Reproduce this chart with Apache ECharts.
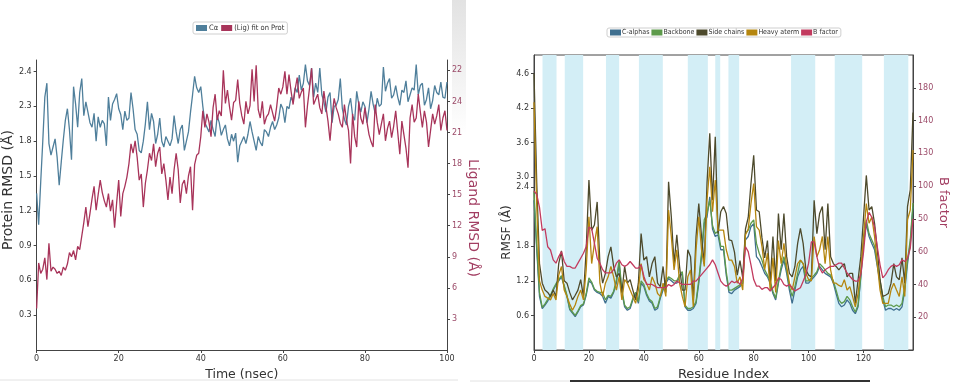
<!DOCTYPE html>
<html><head><meta charset="utf-8">
<script src="https://cdn.jsdelivr.net/npm/echarts@6/dist/echarts.min.js"></script>
<style>html,body{margin:0;padding:0;background:#fff}#c{width:972px;height:390px}</style>
</head><body><div id="c"></div>
<script>
// ---------- Left panel: RMSD vs time ----------
const timeStepNs = 0.5;
const proteinRmsd = [
1.35,1.08,1.45,1.80,2.18,2.30,1.78,1.68,1.75,1.82,
1.66,1.42,1.62,1.81,1.98,2.08,1.90,1.64,2.27,2.12,
1.92,2.22,2.34,2.02,2.14,2.05,1.96,1.92,2.04,1.80,
2.01,1.92,1.98,1.95,1.76,2.18,1.98,2.12,2.16,2.21,
2.08,2.03,1.90,2.06,1.98,2.00,2.22,2.08,1.90,1.86,
1.72,1.70,1.80,1.95,2.14,1.90,2.04,1.97,1.78,1.86,
2.00,1.80,1.75,1.84,1.80,1.76,1.82,2.02,1.88,1.78,
1.90,1.94,1.72,1.80,1.88,2.05,2.20,2.36,2.26,2.22,
2.27,2.10,1.96,1.92,1.88,1.98,1.90,1.84,2.02,1.96,
1.85,1.90,1.94,1.82,1.76,1.86,1.80,1.87,1.62,1.76,
1.80,
1.84,1.78,1.86,1.97,1.88,1.80,1.72,1.84,1.79,1.76,
1.90,1.88,1.84,1.92,1.97,1.90,1.94,2.00,2.12,2.08,
1.96,2.10,2.08,2.18,2.14,2.26,2.22,2.37,2.24,2.30,
2.46,2.32,2.28,2.43,2.18,2.30,2.22,2.43,2.20,2.14,
2.05,2.18,2.22,1.96,2.10,2.11,2.16,2.34,2.08,1.99,
1.94,2.10,2.17,2.02,1.98,2.23,2.12,2.05,2.14,2.10,
1.96,2.08,2.23,2.12,2.04,2.17,2.10,2.12,2.44,2.23,
2.30,2.34,2.17,2.20,2.28,2.18,2.11,2.24,2.22,2.32,
2.14,2.20,2.26,2.24,2.46,2.20,2.28,2.30,2.11,2.16,
2.26,2.08,2.15,2.28,2.22,2.20,2.31,2.18,2.17,2.31
];
const ligandRmsd = [
4.0,8.4,7.4,7.8,8.9,6.8,10.3,7.6,8.0,7.8,
7.4,7.6,7.2,8.0,7.7,8.3,9.4,9.0,9.6,8.7,
10.0,9.7,11.0,12.3,13.8,11.9,13.2,14.6,15.8,13.5,
15.0,16.4,15.2,14.4,13.8,15.1,13.4,14.5,11.8,14.2,
16.4,12.9,15.1,15.8,16.7,18.0,19.9,19.0,20.2,18.6,
16.4,17.0,13.8,16.1,17.4,19.0,18.3,19.9,17.7,19.0,
19.6,17.0,18.0,16.4,14.5,16.7,15.1,17.4,19.0,17.4,
14.2,16.0,16.4,15.1,16.8,17.7,13.5,17.9,18.8,19.0,
20.6,23.1,21.5,22.8,22.0,20.6,23.4,24.7,22.2,23.1,
22.6,27.0,23.8,25.1,23.5,22.2,23.9,24.1,26.1,23.8,
22.6,
21.8,24.0,22.8,23.6,27.1,24.0,27.5,23.2,22.4,24.0,
21.8,22.5,22.8,23.7,22.9,22.1,23.5,25.3,24.7,25.4,
26.9,24.7,26.6,25.0,23.7,25.2,26.3,24.3,24.9,25.3,
21.5,23.6,25.3,27.2,23.7,24.2,24.7,23.4,22.8,25.0,
23.5,22.1,20.2,22.6,24.3,23.4,22.8,21.9,21.5,23.7,
22.2,21.2,18.0,22.8,20.6,19.6,24.0,22.4,21.8,23.4,
22.0,20.8,20.1,19.6,23.7,22.0,20.8,21.8,22.8,20.2,
21.4,22.1,20.5,21.6,23.1,21.0,18.9,22.1,20.8,19.5,
17.6,22.4,23.7,22.0,22.4,24.7,23.0,21.5,23.1,22.0,
19.6,21.2,22.8,21.8,22.6,23.7,21.2,22.4,23.1,21.2
];
const timeTickValues = [0,20,40,60,80,100];
const timeTickLabels = ["0","20","40","60","80","100"];
const proteinTickValues = [0.3,0.6,0.9,1.2,1.5,1.8,2.1,2.4];
const proteinTickLabels = ["0.3","0.6","0.9","1.2","1.5","1.8","2.3","2.4"];
const ligandTickValues = [3,6,9,12,15,18,21,24,27];
const ligandTickLabels = ["3","6","9","12","15","18","21","24","22"];

// ---------- Right panel: RMSF per residue ----------
const cAlphas = [
2.6,1.74,0.93,0.72,0.78,0.85,0.93,1.04,1.13,1.2,
1.27,1.1,0.93,0.7,0.64,0.58,0.66,0.75,0.78,0.95,
1.2,1.16,1.04,1.0,0.98,0.93,0.81,0.93,0.9,1.0,
1.16,1.5,1.0,0.75,0.69,0.72,0.87,0.98,0.81,1.16,
1.1,0.95,0.85,0.81,0.69,0.72,0.9,1.04,1.16,1.24,
1.2,1.16,1.16,1.27,1.33,0.75,0.69,0.69,0.72,0.81,
1.16,1.62,2.2,2.31,2.66,2.1,1.97,2.0,1.74,1.74,
1.3,1.0,0.98,1.04,1.07,1.1,1.16,1.91,1.97,2.14,
2.19,1.62,1.56,1.45,1.33,1.27,1.16,0.98,0.87,1.16,
1.39,1.56,1.33,1.04,0.81,1.04,1.27,1.39,1.45,1.16,
1.16,1.22,1.27,1.33,1.45,1.39,1.33,1.3,1.27,1.16,
0.98,0.81,0.75,0.78,0.87,0.81,0.69,0.63,0.75,1.27,
1.85,2.19,1.97,1.85,1.74,1.45,1.16,0.87,0.69,0.72,
0.72,0.69,0.72,0.69,0.75,1.04,1.5,1.85,2.49
];
const backbone = [
2.75,1.8,1.0,0.74,0.8,0.88,0.95,1.06,1.15,1.22,
1.29,1.12,0.95,0.72,0.66,0.6,0.68,0.77,0.8,0.98,
1.25,1.18,1.06,1.02,1.0,1.0,0.87,0.95,0.93,1.02,
1.22,1.56,1.04,0.78,0.72,0.75,0.9,1.0,0.84,1.2,
1.14,0.98,0.88,0.84,0.72,0.75,0.93,1.08,1.2,1.27,
1.24,1.2,1.2,1.3,1.36,0.78,0.72,0.72,0.75,0.84,
1.22,1.68,2.26,2.37,2.6,2.16,2.02,2.06,1.8,1.8,
1.36,1.04,1.04,1.07,1.1,1.13,1.2,2.02,2.08,2.2,
2.26,1.85,1.68,1.56,1.39,1.3,1.2,1.02,0.9,1.2,
1.45,1.62,1.39,1.1,0.93,1.1,1.33,1.56,1.5,1.2,
1.2,1.25,1.3,1.36,1.5,1.45,1.39,1.33,1.3,1.2,
1.04,0.87,0.81,0.84,0.93,0.87,0.75,0.66,0.78,1.3,
1.91,2.26,2.02,1.91,1.8,1.5,1.2,0.93,0.75,0.78,
0.78,0.75,0.78,0.75,0.81,1.1,1.56,1.91,2.55
];
const sideChains = [
4.8,2.9,1.5,1.16,1.04,1.0,0.93,1.04,0.93,1.5,
1.72,1.2,1.16,1.0,0.87,0.95,1.04,1.22,0.93,1.74,
2.95,2.08,2.17,2.57,1.5,1.16,1.33,1.62,1.79,1.45,
1.27,1.33,1.0,1.45,1.16,1.22,1.04,0.87,1.16,2.02,
1.56,1.62,1.27,1.5,1.62,1.16,1.1,1.45,1.0,2.92,
2.31,1.5,2.0,1.45,1.04,1.04,1.74,1.62,0.87,1.97,
2.54,1.97,1.5,2.9,3.76,2.6,3.7,2.02,2.4,2.49,
2.37,1.91,1.9,1.7,1.3,1.55,1.25,2.1,2.3,2.89,
3.38,2.43,2.4,1.95,1.6,1.9,1.16,1.97,1.2,2.37,
1.74,2.37,1.62,1.33,1.27,1.45,1.85,2.11,1.85,1.39,
1.3,1.27,2.6,2.02,2.37,2.49,1.74,2.54,1.62,1.5,
1.45,1.39,1.45,1.5,1.27,1.33,1.33,0.81,1.22,1.62,
2.31,3.03,2.43,2.49,2.2,1.74,1.22,0.93,0.95,0.98,
1.16,1.5,1.27,1.22,1.6,1.16,2.49,2.78,4.12
];
const heavyAtoms = [
4.3,2.5,1.2,1.04,0.93,0.9,0.87,0.98,0.87,1.3,
1.45,1.04,0.93,0.8,0.69,0.78,0.93,1.04,0.87,1.39,
2.31,1.5,1.85,2.14,1.16,0.93,1.16,1.27,1.45,1.27,
1.04,1.27,0.87,1.22,1.16,1.04,0.93,0.81,1.04,1.5,
1.22,1.16,1.04,1.27,1.16,0.98,0.93,1.16,0.93,2.43,
1.97,1.39,1.74,1.16,0.93,0.75,1.27,1.39,0.75,1.74,
2.31,1.74,1.45,2.6,3.18,2.4,2.95,2.08,2.08,2.08,
1.74,1.56,1.56,1.45,1.16,1.27,1.04,2.0,2.1,2.54,
2.89,2.14,2.08,1.8,1.4,1.68,1.04,1.6,1.0,1.9,
1.5,1.85,1.45,1.16,1.04,1.27,1.5,1.56,1.5,1.33,
1.22,1.2,1.97,1.62,1.74,1.97,1.5,1.97,1.39,1.16,
1.16,1.12,1.1,1.22,1.04,1.1,0.93,0.75,0.98,1.39,
1.97,2.54,2.2,2.31,1.97,1.5,1.04,0.81,0.81,0.81,
1.04,1.16,1.04,0.93,1.27,0.93,2.26,2.43,3.47
];
const bFactor = [
97,95,87,73,74,63,61,55,53,57,
60,54,51,51,50,50,53,56,59,63,
75,74,65,56,53,49,47,47,47,49,
53,55,52,51,52,54,52,50,50,52,
45,40,40,40,39,38,38,38,38,40,
39,40,42,41,40,40,40,40,42,42,
44,46,48,50,52,55,52,47,42,40,
39,40,42,41,42,40,44,63,60,52,
43,39,39,37,38,38,36,38,40,44,
43,40,39,40,38,36,37,38,42,46,
53,66,66,57,50,47,49,50,51,51,
52,53,53,50,47,45,43,42,42,46,
60,78,84,81,75,63,52,44,46,49,
51,52,51,52,55,54,56,62,80
];
const helixRanges = [[3.1,8.2],[11.2,17.9],[26.2,31.0],[38.2,46.9],[56.0,63.3],[66.0,67.8],[70.8,74.7],[93.6,102.4],[109.5,119.5],[127.4,136.3]];
const residueTickValues = [0,20,40,60,80,100,120];
const residueTickLabels = ["0","20","40","60","80","100","120"];
const rmsfTickValues = [0.6,1.2,1.8,2.83,3.0,3.6,4.2,4.8];
const rmsfTickLabels = ["0.6","1.2","1.8","2.4","3.0","3.6","4.2","4.6"];
const bTickValues = [20,40,60,80,100,120,140,160];
const bTickLabels = ["20","40","60","50","100","130","140","180"];

// ---------- helpers ----------
function labeler(vals, labels) {
  return function (v) {
    const i = vals.findIndex(x => Math.abs(x - v) < 1e-6);
    return i >= 0 ? labels[i] : '';
  };
}
const FONT = 'DejaVu Sans';
const NARROW = "'DejaVu Sans Condensed', 'Liberation Sans', sans-serif";
const AXIS_COLOR = '#444';
const CRIMSON_TXT = '#a23e62';
function valueAxis(extra) {
  return Object.assign({
    type: 'value',
    splitLine: { show: false },
    axisLine: { show: true, lineStyle: { color: AXIS_COLOR, width: 1 } },
    nameLocation: 'middle',
    nameTextStyle: { fontFamily: FONT, fontSize: 13, color: '#333' }
  }, extra);
}
function lbl(vals, labels, color) {
  return { customValues: vals, formatter: labeler(vals, labels), fontFamily: FONT, fontSize: 8, color: color || '#333', margin: 5 };
}
function tck(vals) {
  return { show: true, length: 3, customValues: vals, lineStyle: { color: AXIS_COLOR } };
}

const timeData = i => i * timeStepNs;
const residue = i => i;

const chart = echarts.init(document.getElementById('c'), null, { renderer: 'canvas' });
const lineBase = { type: 'line', showSymbol: false, symbol: 'none', animation: false, z: 3 };

chart.setOption({
  backgroundColor: '#fff',
  animation: false,
  grid: [
    { left: 33, right: 525, top: 60, bottom: 40 },
    { left: 534, right: 59, top: 55, bottom: 40, show: true, borderColor: AXIS_COLOR, borderWidth: 1, backgroundColor: 'transparent' }
  ],
  legend: [
    { data: ['Cα', '(Lig) fit on Prot'], left: 193, top: 22, icon: 'rect', itemWidth: 11, itemHeight: 6, itemGap: 3,
      textStyle: { fontFamily: NARROW, fontSize: 7.5, color: '#333', padding: [0, 0, 0, -3] }, borderColor: '#cfcfcf', borderWidth: 1, borderRadius: 2, padding: [2, 3] },
    { data: ['C-alphas', 'Backbone', 'Side chains', 'Heavy aterm', 'B factor'], left: 607, top: 28, icon: 'rect', itemWidth: 11, itemHeight: 6, itemGap: 2,
      textStyle: { fontFamily: NARROW, fontSize: 7, color: '#333', padding: [0, 0, 0, -4] }, borderColor: '#cfcfcf', borderWidth: 1, borderRadius: 2, padding: [1, 3] }
  ],
  xAxis: [
    valueAxis({ gridIndex: 0, min: 0, max: 100, name: 'Time (nsec)', nameGap: 16,
      nameTextStyle: { fontFamily: FONT, fontSize: 12.5, color: '#333' },
      axisLabel: lbl(timeTickValues, timeTickLabels), axisTick: tck(timeTickValues) }),
    valueAxis({ gridIndex: 1, min: 0, max: 138, name: 'Residue Index', nameGap: 14,
      nameTextStyle: { fontFamily: FONT, fontSize: 13, color: '#333' },
      axisLabel: lbl(residueTickValues, residueTickLabels), axisTick: tck(residueTickValues) })
  ],
  yAxis: [
    valueAxis({ gridIndex: 0, min: 0, max: 2.5, position: 'left', name: 'Protein RMSD (Å)', nameGap: 17,
      nameTextStyle: { fontFamily: FONT, fontSize: 14, color: '#333', padding: [0, 0, 0, 30] },
      axisLabel: lbl(proteinTickValues, proteinTickLabels), axisTick: tck(proteinTickValues) }),
    valueAxis({ gridIndex: 0, min: 0, max: 28, position: 'right', name: 'Ligand RMSD (Å)', nameGap: 14, nameRotate: -90,
      nameTextStyle: { fontFamily: FONT, fontSize: 14, color: CRIMSON_TXT, padding: [0, 0, 0, 26] },
      axisLabel: lbl(ligandTickValues, ligandTickLabels, '#9b4a68'), axisTick: tck(ligandTickValues) }),
    valueAxis({ gridIndex: 1, min: 0, max: 5.12, position: 'left', name: 'RMSF (Å)', nameGap: 16,
      nameTextStyle: { fontFamily: FONT, fontSize: 12, color: '#333', padding: [0, 60, 0, 0] },
      axisLabel: lbl(rmsfTickValues, rmsfTickLabels), axisTick: tck(rmsfTickValues) }),
    valueAxis({ gridIndex: 1, min: 0, max: 180, position: 'right', name: 'B factor', nameGap: 20, nameRotate: -90,
      nameTextStyle: { fontFamily: FONT, fontSize: 13, color: CRIMSON_TXT },
      axisLabel: lbl(bTickValues, bTickLabels, '#9b4a68'), axisTick: tck(bTickValues) })
  ],
  series: [
    Object.assign({}, lineBase, { name: 'Cα', xAxisIndex: 0, yAxisIndex: 0, color: '#4f7f9b', lineStyle: { width: 1.3, color: '#4f7f9b' },
      data: proteinRmsd.map((v, i) => [timeData(i), v]) }),
    Object.assign({}, lineBase, { name: '(Lig) fit on Prot', xAxisIndex: 0, yAxisIndex: 1, color: '#a8345a', lineStyle: { width: 1.3, color: '#a8345a' },
      data: ligandRmsd.map((v, i) => [timeData(i), v]) }),
    { type: 'line', name: 'bands', xAxisIndex: 1, yAxisIndex: 2, data: [], z: 1, silent: true, animation: false,
      markArea: { silent: true, itemStyle: { color: '#d3eef6' }, data: helixRanges.map(r => [{ xAxis: r[0] }, { xAxis: r[1] }]) } },
    Object.assign({}, lineBase, { name: 'C-alphas', xAxisIndex: 1, yAxisIndex: 2, color: '#3f6f8f', lineStyle: { width: 1.3, color: '#3f6f8f' },
      data: cAlphas.map((v, i) => [residue(i), v]) }),
    Object.assign({}, lineBase, { name: 'Backbone', xAxisIndex: 1, yAxisIndex: 2, color: '#5d9a4b', lineStyle: { width: 1.3, color: '#5d9a4b' },
      data: backbone.map((v, i) => [residue(i), v]) }),
    Object.assign({}, lineBase, { name: 'Side chains', xAxisIndex: 1, yAxisIndex: 2, color: '#4d4a2c', lineStyle: { width: 1.3, color: '#4d4a2c' },
      data: sideChains.map((v, i) => [residue(i), v]) }),
    Object.assign({}, lineBase, { name: 'Heavy aterm', xAxisIndex: 1, yAxisIndex: 2, color: '#b5860f', lineStyle: { width: 1.3, color: '#b5860f' },
      data: heavyAtoms.map((v, i) => [residue(i), v]) }),
    Object.assign({}, lineBase, { name: 'B factor', xAxisIndex: 1, yAxisIndex: 3, color: '#c23a5e', lineStyle: { width: 1.3, color: '#c23a5e' },
      data: bFactor.map((v, i) => [residue(i), v]) })
  ],
  graphic: [
    { type: 'rect', shape: { x: 452, y: 0, width: 14, height: 135 }, z: -1,
      style: { fill: new echarts.graphic.LinearGradient(0, 0, 0, 1, [{ offset: 0, color: '#e2e2e2' }, { offset: 1, color: '#ffffff' }]) } },
    { type: 'line', shape: { x1: 0, y1: 380, x2: 458, y2: 380 }, style: { stroke: '#e2e2e2', lineWidth: 1 } },
    { type: 'line', shape: { x1: 470, y1: 381, x2: 570, y2: 381 }, style: { stroke: '#e2e2e2', lineWidth: 1 } },
    { type: 'line', shape: { x1: 570, y1: 381, x2: 870, y2: 381 }, style: { stroke: '#333', lineWidth: 2 } }
  ]
});
</script>
</body></html>
